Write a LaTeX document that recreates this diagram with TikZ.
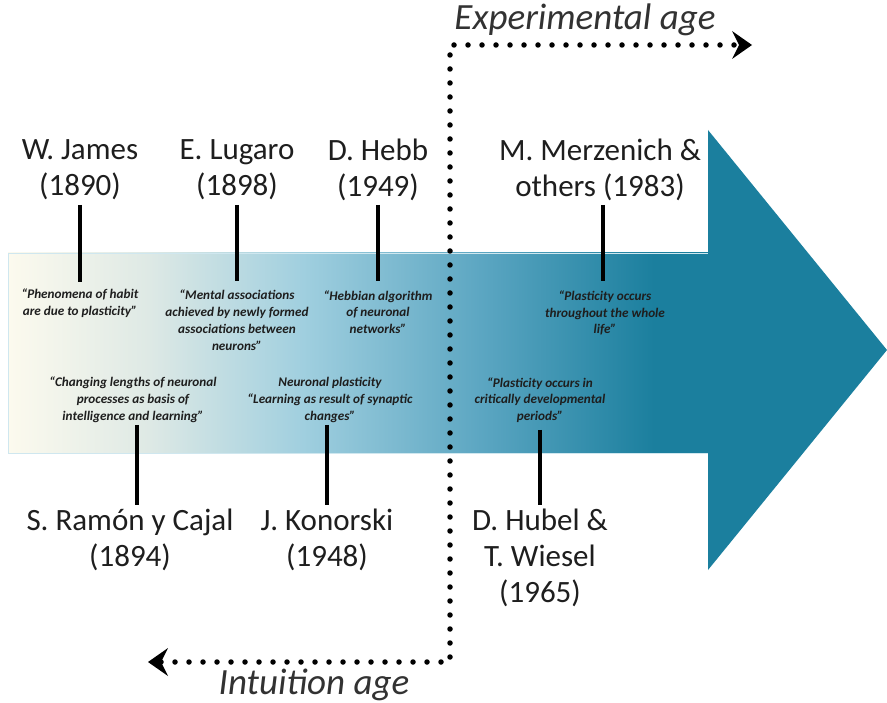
\documentclass[tikz,border=0pt]{standalone}
\usepackage{fontspec}
\setmainfont{Carlito}
\usetikzlibrary{arrows.meta}
\definecolor{tealA}{RGB}{27,127,158}
\definecolor{cA}{RGB}{252,250,238}
\definecolor{cB}{RGB}{222,233,229}
\definecolor{cC}{RGB}{160,207,223}
\definecolor{cD}{RGB}{90,165,193}
\definecolor{txt}{RGB}{30,30,30}
\definecolor{agetxt}{RGB}{50,50,50}
\pgfdeclarehorizontalshading{bodyshade}{100bp}{color(0bp)=(cA); color(25bp)=(cA); color(35bp)=(cB); color(46bp)=(cC); color(59bp)=(cD); color(71bp)=(tealA); color(100bp)=(tealA)}
\tikzset{
  namebox/.style={text=txt, align=center, inner sep=0pt, font=\fontsize{31}{36}\selectfont},
  quotebox/.style={text=txt, align=center, inner sep=0pt, font=\fontsize{13.2}{16.8}\selectfont\bfseries\itshape},
  agebox/.style={text=agetxt, inner sep=0pt, font=\fontsize{37}{40}\selectfont\itshape},
  bar/.style={line width=4.5pt, black},
  dotline/.style={line width=5.5pt, dash pattern=on 0pt off 14pt, line cap=round, black},
}
\begin{document}
\begin{tikzpicture}[x=1pt, y=-1pt]
\useasboundingbox (0,0) rectangle (887,703);
% arrow body and head
\path[shading=bodyshade, draw=cC!50, line width=0.8pt] (8,253) rectangle (710,453);
\fill[tealA] (708,130) -- (887,350) -- (708,570) -- cycle;
% dotted divider
\coordinate (tipL) at (148,662);
\coordinate (cBL) at (450,662);
\coordinate (cTL) at (450,45);
\coordinate (tipR) at (752,45);
\draw[dotline, {Stealth[length=20pt, width=28pt, inset=7pt, line width=0pt]}-{Stealth[length=20pt, width=28pt, inset=7pt, line width=0pt]}] (tipL) -- (cBL) -- (cTL) -- (tipR);
\node[agebox] (exp) at (585,20) {Experimental age};
\node[agebox] (int) at (314,685) {Intuition age};
% upper names
\node[namebox] (james) at (80,170) {W. James\\(1890)};
\node[namebox] (lugaro) at (237,170) {E. Lugaro\\(1898)};
\node[namebox] (hebb) at (378,170) {D. Hebb\\(1949)};
\node[namebox] (merz) at (600,170) {M. Merzenich \&\\others (1983)};
% upper quotes
\node[quotebox] (qjames) at (80,303.5) {“Phenomena of habit\\are due to plasticity”};
\node[quotebox] (qlugaro) at (237,320) {“Mental associations\\achieved by newly formed\\associations between\\neurons”};
\node[quotebox] (qhebb) at (378,312) {“Hebbian algorithm\\of neuronal\\networks”};
\node[quotebox] (qmerz) at (605,313) {“Plasticity occurs\\throughout the whole\\life”};
% lower quotes
\node[quotebox] (qcajal) at (133,400) {“Changing lengths of neuronal\\processes as basis of\\intelligence and learning”};
\node[quotebox] (qkon) at (330,400) {Neuronal plasticity\\“Learning as result of synaptic\\changes”};
\node[quotebox] (qhub) at (540,400) {“Plasticity occurs in\\critically developmental\\periods”};
% lower names
\node[namebox] (cajal) at (130,540) {S. Ramón y Cajal\\(1894)};
\node[namebox] (kon) at (327,540) {J. Konorski\\(1948)};
\node[namebox] (hub) at (540,558) {D. Hubel \&\\T. Wiesel\\(1965)};
% bars
\coordinate (b1t) at (80,205);  \coordinate (b1b) at (80,282);
\coordinate (b2t) at (237,205); \coordinate (b2b) at (237,281);
\coordinate (b3t) at (378,205); \coordinate (b3b) at (378,281);
\coordinate (b4t) at (603,205); \coordinate (b4b) at (603,281);
\coordinate (b5t) at (137,425); \coordinate (b5b) at (137,505);
\coordinate (b6t) at (327,425); \coordinate (b6b) at (327,505);
\coordinate (b7t) at (540,430); \coordinate (b7b) at (540,505);
\draw[bar] (b1t) -- (b1b);
\draw[bar] (b2t) -- (b2b);
\draw[bar] (b3t) -- (b3b);
\draw[bar] (b4t) -- (b4b);
\draw[bar] (b5t) -- (b5b);
\draw[bar] (b6t) -- (b6b);
\draw[bar] (b7t) -- (b7b);
\end{tikzpicture}
\end{document}
